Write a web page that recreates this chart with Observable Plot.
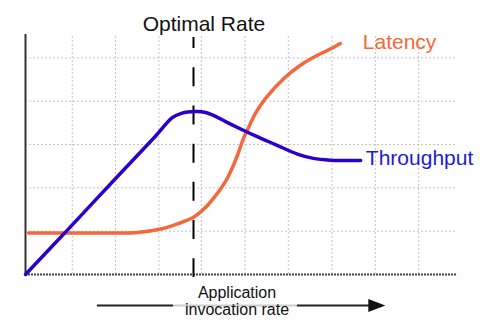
<!DOCTYPE html>
<html>
<head>
<meta charset="utf-8">
<script src="https://cdn.jsdelivr.net/npm/d3@7"></script>
<script src="https://cdn.jsdelivr.net/npm/@observablehq/plot@0.6"></script>
<style>
  html, body { margin: 0; padding: 0; background: #fff; }
  svg { display: block; }
</style>
</head>
<body>
<div id="chart"></div>
<script>
// ---- data ----
const throughputX = [0, 1.0, 2.0, 3.0, 3.39, 3.60, 3.93, 4.16, 4.39, 4.62, 5.03, 5.31, 5.77, 6.28, 6.65, 7.04, 7.74];
const throughputY = [0, 1.06, 2.13, 3.19, 3.62, 3.72, 3.76, 3.74, 3.65, 3.53, 3.33, 3.20, 3.00, 2.78, 2.68, 2.64, 2.63];

const latencyX = [0.07, 1.73, 2.59, 3.12, 3.51, 3.88, 4.16, 4.39, 4.62, 4.78, 4.92, 5.03, 5.15, 5.31, 5.54, 5.96, 6.35, 6.74, 7.11, 7.27];
const latencyY = [0.96, 0.96, 0.97, 1.05, 1.17, 1.32, 1.55, 1.82, 2.15, 2.47, 2.82, 3.13, 3.39, 3.72, 4.06, 4.52, 4.83, 5.06, 5.24, 5.33];

const gridX = [1.08, 2.08, 3.08, 4.06, 5.07, 6.07, 7.08, 8.08, 9.08];
const gridY = [1, 2, 3, 4, 5];

const optimalRate = 3.88;
const titleText = "Optimal Rate";
const seriesNames = ["Latency", "Throughput"];
const axisLabelLines = ["Application", "invocation rate"];

// ---- build tables ----
const throughput = throughputX.map((x, i) => ({x, y: throughputY[i]}));
const latency = latencyX.map((x, i) => ({x, y: latencyY[i]}));

const BLUE = "#2a00cc";
const BLUE_TXT = "#1c1cd6";
const ORANGE = "#f4683b";
const ORANGE_TXT = "#f26a36";
const FONT = "'Liberation Sans', Arial, sans-serif";

const xMax = 9.98, yMax = 5.54;
const arrowY = -0.716;

const arrowHead = {
  draw(ctx) {
    ctx.moveTo(0, 0);
    ctx.lineTo(-17, -6.5);
    ctx.lineTo(-17, 6.5);
    ctx.closePath();
  }
};

const chart = Plot.plot({
  width: 483,
  height: 326,
  marginLeft: 25,
  marginRight: 25,
  marginTop: 34,
  marginBottom: 52,
  x: {domain: [0, 10], axis: null},
  y: {domain: [0, yMax], axis: null},
  style: {background: "#fff", fontFamily: FONT, overflow: "visible"},
  marks: [
    // grid
    Plot.ruleX(gridX, {x: d => d, y1: 0, y2: yMax, stroke: "#c4c4c4", strokeWidth: 1, strokeDasharray: "2,2"}),
    Plot.ruleY(gridY, {y: d => d, x1: 0, x2: xMax, stroke: "#c4c4c4", strokeWidth: 1, strokeDasharray: "2,2"}),
    // axes
    Plot.ruleY([0], {x1: 0, x2: xMax, stroke: "#444", strokeWidth: 2, strokeDasharray: "2,1"}),
    Plot.ruleX([0], {y1: 0, y2: yMax, stroke: "#333", strokeWidth: 2}),
    // optimal rate dashed line
    Plot.ruleX([optimalRate], {x: d => d, y1: 5.47, y2: -0.07, stroke: "#000", strokeWidth: 2, strokeDasharray: "19,19.2", strokeDashoffset: 8}),
    // series
    Plot.line(latency, {x: "x", y: "y", stroke: ORANGE, strokeWidth: 3.5, curve: "catmull-rom", strokeLinecap: "round"}),
    Plot.line(throughput, {x: "x", y: "y", stroke: BLUE, strokeWidth: 3.5, curve: "catmull-rom", strokeLinecap: "round"}),
    // labels
    Plot.text([titleText], {x: 4.12, y: 5.77, text: d => d, fontSize: 21, fill: "#111", textAnchor: "middle", lineAnchor: "middle", fontFamily: FONT}),
    Plot.text([seriesNames[0]], {x: 7.79, y: 5.37, text: d => d, fontSize: 21, fill: ORANGE_TXT, textAnchor: "start", lineAnchor: "middle", fontFamily: FONT}),
    Plot.text([seriesNames[1]], {x: 7.86, y: 2.69, text: d => d, fontSize: 21, fill: BLUE_TXT, textAnchor: "start", lineAnchor: "middle", fontFamily: FONT}),
    // invocation-rate arrow
    Plot.ruleY([arrowY], {y: d => d, x1: 1.66, x2: 3.42, stroke: "#222", strokeWidth: 2}),
    Plot.ruleY([arrowY], {y: d => d, x1: 3.42, x2: 6.28, stroke: "#cccccc", strokeWidth: 2}),
    Plot.ruleY([arrowY], {y: d => d, x1: 6.28, x2: 7.95, stroke: "#222", strokeWidth: 2}),
    Plot.dot([arrowY], {x: 8.31, y: d => d, symbol: arrowHead, fill: "#111", stroke: null}),
    Plot.text([axisLabelLines[0]], {x: 4.885, y: -0.43, text: d => d, fontSize: 16, fill: "#111", textAnchor: "middle", lineAnchor: "middle", fontFamily: FONT}),
    Plot.text([axisLabelLines[1]], {x: 4.885, y: -0.815, text: d => d, fontSize: 16, fill: "#111", textAnchor: "middle", lineAnchor: "middle", fontFamily: FONT})
  ]
});

document.getElementById("chart").appendChild(chart);
</script>
</body>
</html>
